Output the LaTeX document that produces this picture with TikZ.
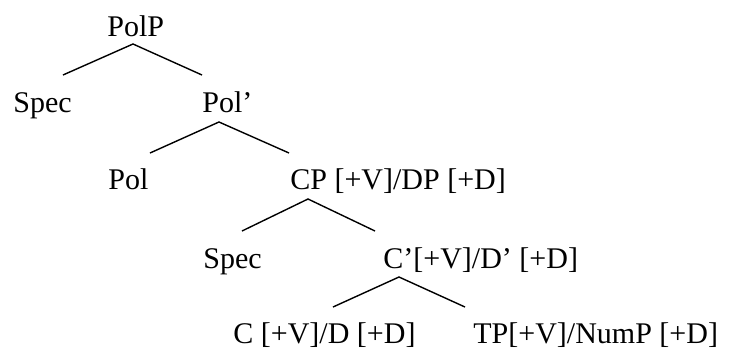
\documentclass[tikz,border=0pt]{standalone}
\usepackage{fontspec}
\setmainfont{Liberation Serif}

\begin{document}
\begin{tikzpicture}[x=0.5pt,y=-0.5pt,
    lbl/.style={anchor=base west,inner sep=0pt,font=\fontsize{15}{18}\selectfont},
    branch/.style={line width=0.7pt}]
  \useasboundingbox (0,0) rectangle (746,349);
  % labels, one row per level
  \node[lbl] (polp) at (107,36) {PolP};
  \node[lbl] (specA) at (13,112) {Spec};
  \node[lbl] (polbar) at (202,112) {Pol'};
  \node[lbl] (pol) at (108,189) {Pol};
  \node[lbl] (cp) at (290,189) {CP [+V]/DP [+D]};
  \node[lbl] (specB) at (203,268) {Spec};
  \node[lbl] (cbar) at (383,268) {C'[+V]/D' [+D]};
  \node[lbl] (c) at (233,343) {C [+V]/D [+D]};
  \node[lbl] (tp) at (473,343) {TP[+V]/NumP [+D]};
  % where the branches meet the labels
  \foreach \n/\x/\y in {polp-b/133/44, specA-t/63/75, polbar-t/202/75,
      polbar-b/219/122, pol-t/150/153, cp-t/289/153,
      cp-b/308/199, specB-t/242/231, cbar-t/375/231,
      cbar-b/399/277, c-t/333/307, tp-t/465/307}
    \coordinate (\n) at (\x,\y);
  \foreach \l/\m/\r in {specA-t/polp-b/polbar-t, pol-t/polbar-b/cp-t,
      specB-t/cp-b/cbar-t, c-t/cbar-b/tp-t}
    \draw[branch] (\l) -- (\m) -- (\r);
\end{tikzpicture}
\end{document}
